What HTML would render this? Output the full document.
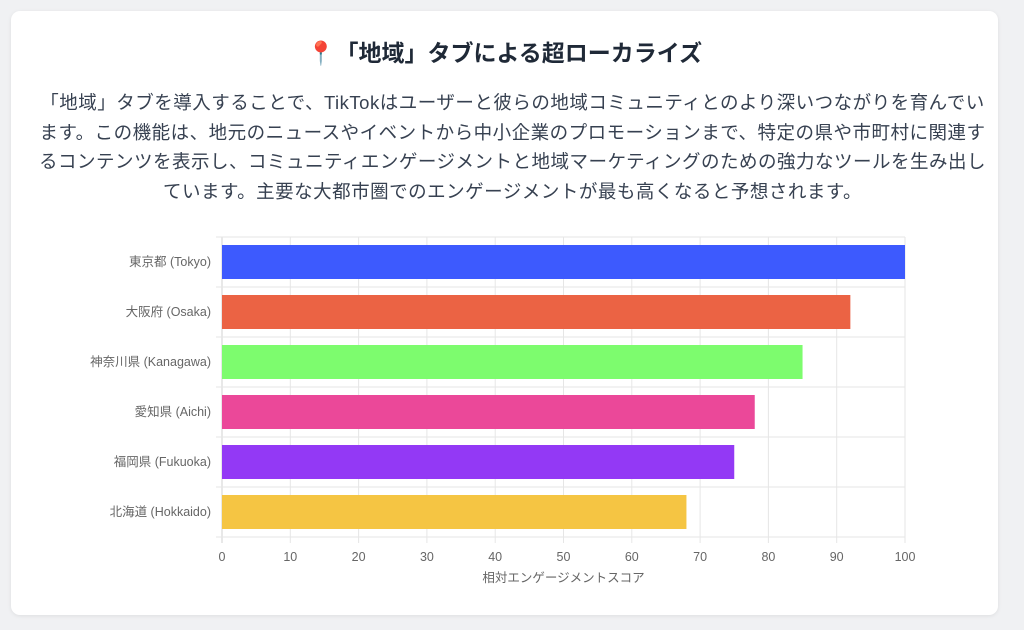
<!DOCTYPE html>
<html><head><meta charset="utf-8"><style>
body{margin:0;width:1024px;height:630px;background:#f0f1f3;font-family:"Liberation Sans","Noto Sans CJK JP",sans-serif;overflow:hidden}
.card{position:absolute;left:11px;top:11px;width:987px;height:604px;background:#fff;border-radius:9px;box-shadow:0 1px 4px rgba(0,0,0,.08)}
h1{position:absolute;left:0;top:26px;width:987px;margin:0;text-align:center;font-size:23px;font-weight:bold;color:#1f2937;line-height:32px}
p{position:absolute;left:-12px;top:77px;width:1027px;margin:0;text-align:center;font-size:18.5px;letter-spacing:0.5px;line-height:29.5px;color:#374151;white-space:nowrap}
svg{position:absolute;left:0;top:0}
</style></head><body>
<div class="card">
<h1>📍「地域」タブによる超ローカライズ</h1>
<p>「地域」タブを導入することで、TikTokはユーザーと彼らの地域コミュニティとのより深いつながりを育んでい<br>ます。この機能は、地元のニュースやイベントから中小企業のプロモーションまで、特定の県や市町村に関連す<br>るコンテンツを表示し、コミュニティエンゲージメントと地域マーケティングのための強力なツールを生み出し<br>ています。主要な大都市圏でのエンゲージメントが最も高くなると予想されます。</p>
</div>
<svg id="chart" width="1024" height="630"></svg>
<script>
const categories=["東京都 (Tokyo)","大阪府 (Osaka)","神奈川県 (Kanagawa)","愛知県 (Aichi)","福岡県 (Fukuoka)","北海道 (Hokkaido)"];
const values=[100,92,85,78,75,68];
const colors=["#3d5afe","#eb6344","#7dfc6e","#eb4899","#9339f5","#f5c543"];
const xTicks=[0,10,20,30,40,50,60,70,80,90,100];
const xTitle="相対エンゲージメントスコア";
const svg=document.getElementById('chart');const NS="http://www.w3.org/2000/svg";
const L=222,R=905,T=237,B=537;
const x=v=>L+(v-0)/(100-0)*(R-L);
const band=(B-T)/categories.length;
const y=i=>T+i*band;
function mk(t,a){const e=document.createElementNS(NS,t);for(const k in a)e.setAttribute(k,a[k]);svg.appendChild(e);return e;}
xTicks.forEach(t=>{
 const g=mk('line',{x1:x(t),x2:x(t),y1:T,y2:B+6,stroke:t===0?'#d0d0d0':'#e6e6e6','stroke-width':1});
 
 
 const l=mk('text',{x:x(t),y:B+24,'text-anchor':'middle','font-size':12.5,fill:'#666'});
 l.textContent=t;
 
 
});
for(let i=0;i<=categories.length;i++){
 const g=mk('line',{x1:L-6,x2:R,y1:y(i),y2:y(i),stroke:'#e6e6e6','stroke-width':1});
 
 
}
categories.forEach((c,i)=>{
 const bh=band*0.68;
 const r=mk('rect',{x:x(0),y:y(i)+(band-bh)/2,width:x(values[i])-x(0),height:bh,fill:colors[i]});
 
 
 const t=mk('text',{x:L-11,y:y(i)+band/2+4,'text-anchor':'end','font-size':12.5,fill:'#666'});
 t.textContent=c;
 
 
});
const at=mk('text',{x:(L+R)/2,y:582,'text-anchor':'middle','font-size':12.5,fill:'#666'});
at.textContent=xTitle;


</script>
</body></html>
